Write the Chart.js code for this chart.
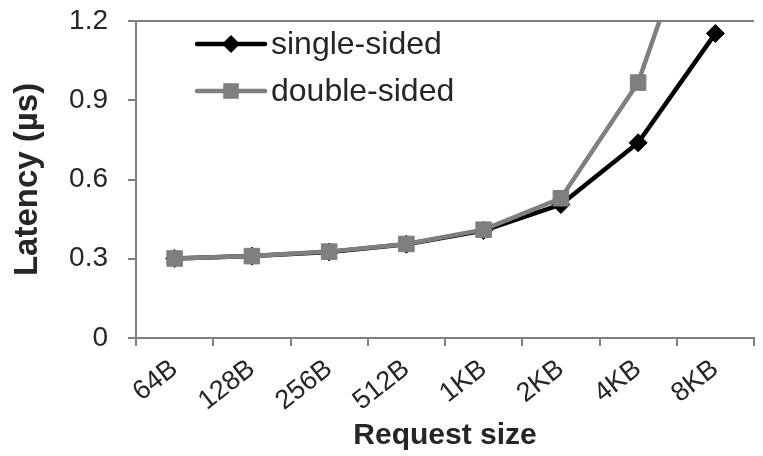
<!DOCTYPE html>
<html>
<head>
<meta charset="utf-8">
<script src="https://cdn.jsdelivr.net/npm/chart.js@4.4.0/dist/chart.umd.min.js"></script>
<style>
  html, body { margin: 0; padding: 0; background: #fff; overflow: hidden; }
  #wrap { width: 766px; height: 456px; }
</style>
</head>
<body>
<div id="wrap"><canvas id="c" width="766" height="456"></canvas></div>
<script>
// Request sizes on the x axis
const categories = ['64B', '128B', '256B', '512B', '1KB', '2KB', '4KB', '8KB'];
// Latency in microseconds
const singleSided = [0.301, 0.310, 0.326, 0.355, 0.407, 0.505, 0.739, 1.153];
const doubleSided = [0.301, 0.310, 0.327, 0.356, 0.410, 0.529, 0.967, 1.81];
// Y axis ticks
const yTicks = [0, 0.3, 0.6, 0.9, 1.2];

const FONT = "'Liberation Sans', Arial, sans-serif";
const TEXT = '#262626';
const AXIS = '#808080';

// Legend drawn inside the plot area, top-left
const plotLegend = {
  id: 'plotLegend',
  afterDatasetsDraw(chart) {
    const ctx = chart.ctx;
    const area = chart.chartArea;
    ctx.save();
    chart.data.datasets.forEach((ds, i) => {
      const y = area.top + 23 + i * 47;
      const x0 = area.left + 61, x1 = area.left + 129, xm = (x0 + x1) / 2;
      ctx.strokeStyle = ds.borderColor;
      ctx.lineWidth = ds.borderWidth;
      ctx.lineCap = 'round';
      ctx.beginPath();
      ctx.moveTo(x0, y);
      ctx.lineTo(x1, y);
      ctx.stroke();
      ctx.fillStyle = ds.pointBackgroundColor;
      ctx.beginPath();
      if (ds.pointStyle === 'rectRot') {
        const r = ds.pointRadius;
        ctx.moveTo(xm, y - r);
        ctx.lineTo(xm + r, y);
        ctx.lineTo(xm, y + r);
        ctx.lineTo(xm - r, y);
      } else {
        const s = ds.pointRadius * Math.SQRT1_2;
        ctx.rect(xm - s, y - s, 2 * s, 2 * s);
      }
      ctx.closePath();
      ctx.fill();
      ctx.fillStyle = TEXT;
      ctx.font = '32px ' + FONT;
      ctx.textAlign = 'left';
      ctx.textBaseline = 'middle';
      ctx.fillText(ds.label, x1 + 6, y + 1);
    });
    ctx.restore();
  }
};

new Chart(document.getElementById('c'), {
  type: 'line',
  data: {
    labels: categories,
    datasets: [
      {
        label: 'single-sided',
        data: singleSided,
        borderColor: '#000000',
        backgroundColor: '#000000',
        pointBackgroundColor: '#000000',
        pointBorderColor: '#000000',
        borderWidth: 4.5,
        pointStyle: 'rectRot',
        pointRadius: 9,
        pointBorderWidth: 1,
        tension: 0,
        order: 1
      },
      {
        label: 'double-sided',
        data: doubleSided,
        borderColor: '#7f7f7f',
        backgroundColor: '#7f7f7f',
        pointBackgroundColor: '#7f7f7f',
        pointBorderColor: '#7f7f7f',
        borderWidth: 4.5,
        pointStyle: 'rect',
        pointRadius: 11,
        pointBorderWidth: 1,
        tension: 0,
        order: 0
      }
    ]
  },
  options: {
    responsive: false,
    animation: false,
    events: [],
    layout: { padding: { top: 21, right: 0, bottom: 0, left: 0 } },
    plugins: {
      legend: { display: false },
      tooltip: { enabled: false }
    },
    scales: {
      x: {
        type: 'category',
        offset: true,
        border: { display: true, color: AXIS, width: 2 },
        grid: {
          offset: true,
          drawOnChartArea: false,
          drawTicks: true,
          tickLength: 8,
          color: AXIS,
          lineWidth: 2
        },
        ticks: {
          autoSkip: false,
          maxRotation: 38,
          minRotation: 38,
          padding: 7,
          color: TEXT,
          font: { family: FONT, size: 27 }
        },
        title: {
          display: true,
          text: 'Request size',
          color: TEXT,
          font: { family: FONT, size: 30, weight: 'bold' },
          padding: { top: 0, bottom: 2 }
        },
        afterFit(scale) {
          scale.height = 118;
          scale.paddingLeft = 0;
          scale.paddingRight = 0;
        }
      },
      y: {
        min: 0,
        max: 1.2,
        border: { display: true, color: AXIS, width: 2 },
        grid: {
          drawTicks: true,
          tickLength: 8,
          tickColor: AXIS,
          tickWidth: 2,
          lineWidth: 2,
          color: (c) => (c.tick && Math.abs(c.tick.value - 1.2) < 1e-6 ? AXIS : 'rgba(0,0,0,0)')
        },
        afterBuildTicks(scale) {
          scale.ticks = yTicks.map(v => ({ value: v }));
        },
        ticks: {
          padding: 20,
          color: TEXT,
          font: { family: FONT, size: 28 },
          callback: (v) => (v === 0 ? '0' : v.toFixed(1))
        },
        title: {
          display: true,
          text: 'Latency (µs)',
          color: TEXT,
          font: { family: FONT, size: 33, weight: 'bold' },
          padding: { top: 8, bottom: 0 }
        },
        afterFit(scale) {
          scale.width = 136;
          scale.paddingTop = 0;
          scale.paddingBottom = 0;
        }
      }
    }
  },
  plugins: [plotLegend]
});
</script>
</body>
</html>
